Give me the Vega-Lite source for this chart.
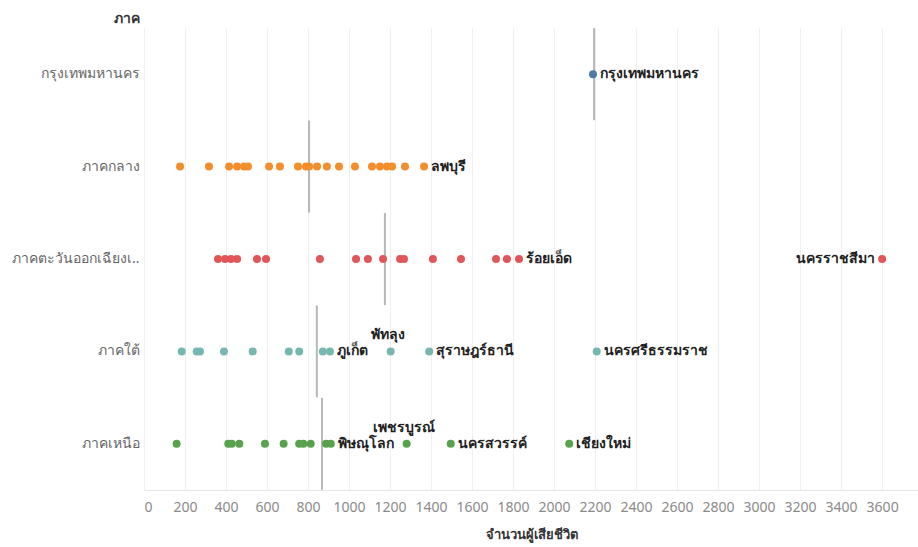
{
  "$schema": "https://vega.github.io/schema/vega-lite/v6.json",
  "autosize": {"type": "none"},
  "padding": {"left": 144, "top": 28, "right": 0, "bottom": 57},
  "width": 774,
  "height": 462,
  "config": {
    "view": {"stroke": null},
    "font": "Noto Sans",
    "axis": {"labelFont": "Noto Sans", "titleFont": "Noto Sans"}
  },
  "datasets": {
    "points": [
      {"region": "กรุงเทพมหานคร", "province": "กรุงเทพมหานคร", "deaths": 2190},
      {"region": "ภาคกลาง", "province": "", "deaths": 176},
      {"region": "ภาคกลาง", "province": "", "deaths": 317},
      {"region": "ภาคกลาง", "province": "", "deaths": 415},
      {"region": "ภาคกลาง", "province": "", "deaths": 454},
      {"region": "ภาคกลาง", "province": "", "deaths": 488},
      {"region": "ภาคกลาง", "province": "", "deaths": 507},
      {"region": "ภาคกลาง", "province": "", "deaths": 610},
      {"region": "ภาคกลาง", "province": "", "deaths": 663},
      {"region": "ภาคกลาง", "province": "", "deaths": 751},
      {"region": "ภาคกลาง", "province": "", "deaths": 790},
      {"region": "ภาคกลาง", "province": "", "deaths": 805},
      {"region": "ภาคกลาง", "province": "", "deaths": 844},
      {"region": "ภาคกลาง", "province": "", "deaths": 892},
      {"region": "ภาคกลาง", "province": "", "deaths": 951},
      {"region": "ภาคกลาง", "province": "", "deaths": 1029},
      {"region": "ภาคกลาง", "province": "", "deaths": 1112},
      {"region": "ภาคกลาง", "province": "", "deaths": 1151},
      {"region": "ภาคกลาง", "province": "", "deaths": 1185},
      {"region": "ภาคกลาง", "province": "", "deaths": 1210},
      {"region": "ภาคกลาง", "province": "", "deaths": 1273},
      {"region": "ภาคกลาง", "province": "ลพบุรี", "deaths": 1366},
      {"region": "ภาคตะวันออกเฉียงเหนือ", "province": "", "deaths": 361},
      {"region": "ภาคตะวันออกเฉียงเหนือ", "province": "", "deaths": 395},
      {"region": "ภาคตะวันออกเฉียงเหนือ", "province": "", "deaths": 424},
      {"region": "ภาคตะวันออกเฉียงเหนือ", "province": "", "deaths": 454},
      {"region": "ภาคตะวันออกเฉียงเหนือ", "province": "", "deaths": 551},
      {"region": "ภาคตะวันออกเฉียงเหนือ", "province": "", "deaths": 595},
      {"region": "ภาคตะวันออกเฉียงเหนือ", "province": "", "deaths": 858},
      {"region": "ภาคตะวันออกเฉียงเหนือ", "province": "", "deaths": 1034},
      {"region": "ภาคตะวันออกเฉียงเหนือ", "province": "", "deaths": 1092},
      {"region": "ภาคตะวันออกเฉียงเหนือ", "province": "", "deaths": 1166},
      {"region": "ภาคตะวันออกเฉียงเหนือ", "province": "", "deaths": 1249},
      {"region": "ภาคตะวันออกเฉียงเหนือ", "province": "", "deaths": 1268},
      {"region": "ภาคตะวันออกเฉียงเหนือ", "province": "", "deaths": 1409},
      {"region": "ภาคตะวันออกเฉียงเหนือ", "province": "", "deaths": 1546},
      {"region": "ภาคตะวันออกเฉียงเหนือ", "province": "", "deaths": 1717},
      {"region": "ภาคตะวันออกเฉียงเหนือ", "province": "", "deaths": 1770},
      {"region": "ภาคตะวันออกเฉียงเหนือ", "province": "ร้อยเอ็ด", "deaths": 1829},
      {"region": "ภาคตะวันออกเฉียงเหนือ", "province": "นครราชสีมา", "deaths": 3600},
      {"region": "ภาคใต้", "province": "", "deaths": 184},
      {"region": "ภาคใต้", "province": "", "deaths": 257},
      {"region": "ภาคใต้", "province": "", "deaths": 273},
      {"region": "ภาคใต้", "province": "", "deaths": 390},
      {"region": "ภาคใต้", "province": "", "deaths": 530},
      {"region": "ภาคใต้", "province": "", "deaths": 706},
      {"region": "ภาคใต้", "province": "", "deaths": 757},
      {"region": "ภาคใต้", "province": "", "deaths": 872},
      {"region": "ภาคใต้", "province": "ภูเก็ต", "deaths": 907},
      {"region": "ภาคใต้", "province": "พัทลุง", "deaths": 1203},
      {"region": "ภาคใต้", "province": "สุราษฎร์ธานี", "deaths": 1391},
      {"region": "ภาคใต้", "province": "นครศรีธรรมราช", "deaths": 2208},
      {"region": "ภาคเหนือ", "province": "", "deaths": 159},
      {"region": "ภาคเหนือ", "province": "", "deaths": 411},
      {"region": "ภาคเหนือ", "province": "", "deaths": 428},
      {"region": "ภาคเหนือ", "province": "", "deaths": 465},
      {"region": "ภาคเหนือ", "province": "", "deaths": 590},
      {"region": "ภาคเหนือ", "province": "", "deaths": 681},
      {"region": "ภาคเหนือ", "province": "", "deaths": 757},
      {"region": "ภาคเหนือ", "province": "", "deaths": 777},
      {"region": "ภาคเหนือ", "province": "", "deaths": 813},
      {"region": "ภาคเหนือ", "province": "", "deaths": 888},
      {"region": "ภาคเหนือ", "province": "พิษณุโลก", "deaths": 911},
      {"region": "ภาคเหนือ", "province": "เพชรบูรณ์", "deaths": 1281},
      {"region": "ภาคเหนือ", "province": "นครสวรรค์", "deaths": 1496},
      {"region": "ภาคเหนือ", "province": "เชียงใหม่", "deaths": 2074}
    ],
    "medians": [
      {"region": "กรุงเทพมหานคร", "median": 2195},
      {"region": "ภาคกลาง", "median": 805},
      {"region": "ภาคตะวันออกเฉียงเหนือ", "median": 1175},
      {"region": "ภาคใต้", "median": 843},
      {"region": "ภาคเหนือ", "median": 868}
    ]
  },
  "layer": [
    {
      "data": {"name": "medians"},
      "mark": {"type": "tick", "orient": "vertical", "color": "#9a9a9a", "thickness": 2, "size": 92},
      "encoding": {
        "x": {"field": "median", "type": "quantitative"},
        "y": {"field": "region", "type": "nominal"}
      }
    },
    {
      "data": {"name": "points"},
      "layer": [
        {
          "mark": {"type": "circle", "size": 64, "opacity": 1},
          "encoding": {
            "color": {
              "field": "region", "type": "nominal", "legend": null,
              "scale": {
                "domain": ["กรุงเทพมหานคร", "ภาคกลาง", "ภาคตะวันออกเฉียงเหนือ", "ภาคใต้", "ภาคเหนือ"],
                "range": ["#4e79a7", "#f28e2b", "#e15759", "#76b7b2", "#59a14f"]
              }
            }
          }
        },
        {
          "transform": [{"filter": "indexof(['กรุงเทพมหานคร','ลพบุรี','ร้อยเอ็ด','ภูเก็ต','สุราษฎร์ธานี','นครศรีธรรมราช','พิษณุโลก','นครสวรรค์','เชียงใหม่'], datum.province) >= 0"}],
          "mark": {"type": "text", "align": "left", "baseline": "middle", "dx": 7, "fontSize": 14, "fontWeight": "bold", "color": "#222"},
          "encoding": {"text": {"field": "province"}}
        },
        {
          "transform": [{"filter": "datum.province == 'นครราชสีมา'"}],
          "mark": {"type": "text", "align": "right", "baseline": "middle", "dx": -7, "fontSize": 14, "fontWeight": "bold", "color": "#222"},
          "encoding": {"text": {"field": "province"}}
        },
        {
          "transform": [{"filter": "datum.province == 'พัทลุง' || datum.province == 'เพชรบูรณ์'"}],
          "mark": {"type": "text", "align": "center", "baseline": "middle", "dx": -3, "dy": -16, "fontSize": 14, "fontWeight": "bold", "color": "#222"},
          "encoding": {"text": {"field": "province"}}
        }
      ],
      "encoding": {
        "x": {"field": "deaths", "type": "quantitative"},
        "y": {"field": "region", "type": "nominal"}
      }
    }
  ],
  "resolve": {"scale": {"x": "shared", "y": "shared"}},
  "encoding": {
    "x": {
      "field": "deaths", "type": "quantitative",
      "scale": {"domain": [0, 3775], "nice": false, "zero": true},
      "axis": {
        "title": "จำนวนผู้เสียชีวิต",
        "format": "d",
        "values": [0,200,400,600,800,1000,1200,1400,1600,1800,2000,2200,2400,2600,2800,3000,3200,3400,3600],
        "grid": true, "gridColor": "#efefef", "gridWidth": 1,
        "ticks": false, "domain": true, "domainColor": "#e6e6e6",
        "labelFlush": true, "labelFontSize": 14, "labelColor": "#8a8a8a", "labelPadding": 10,
        "titleFontSize": 13, "titleFontWeight": "bold", "titleColor": "#333", "titlePadding": 14
      }
    },
    "y": {
      "field": "region", "type": "nominal",
      "sort": ["กรุงเทพมหานคร", "ภาคกลาง", "ภาคตะวันออกเฉียงเหนือ", "ภาคใต้", "ภาคเหนือ"],
      "scale": {"paddingInner": 0, "paddingOuter": 0},
      "axis": {
        "title": "ภาค", "titleAngle": 0, "titleAlign": "right", "titleBaseline": "middle",
        "titleX": -5, "titleY": -10, "titleFontSize": 14, "titleFontWeight": "bold", "titleColor": "#333",
        "labelExpr": "datum.label == 'ภาคตะวันออกเฉียงเหนือ' ? 'ภาคตะวันออกเฉียงเ..' : datum.label",
        "labelFontSize": 14, "labelColor": "#666", "labelPadding": 5, "labelLimit": 200,
        "ticks": false, "domain": false, "grid": false
      }
    }
  }
}
